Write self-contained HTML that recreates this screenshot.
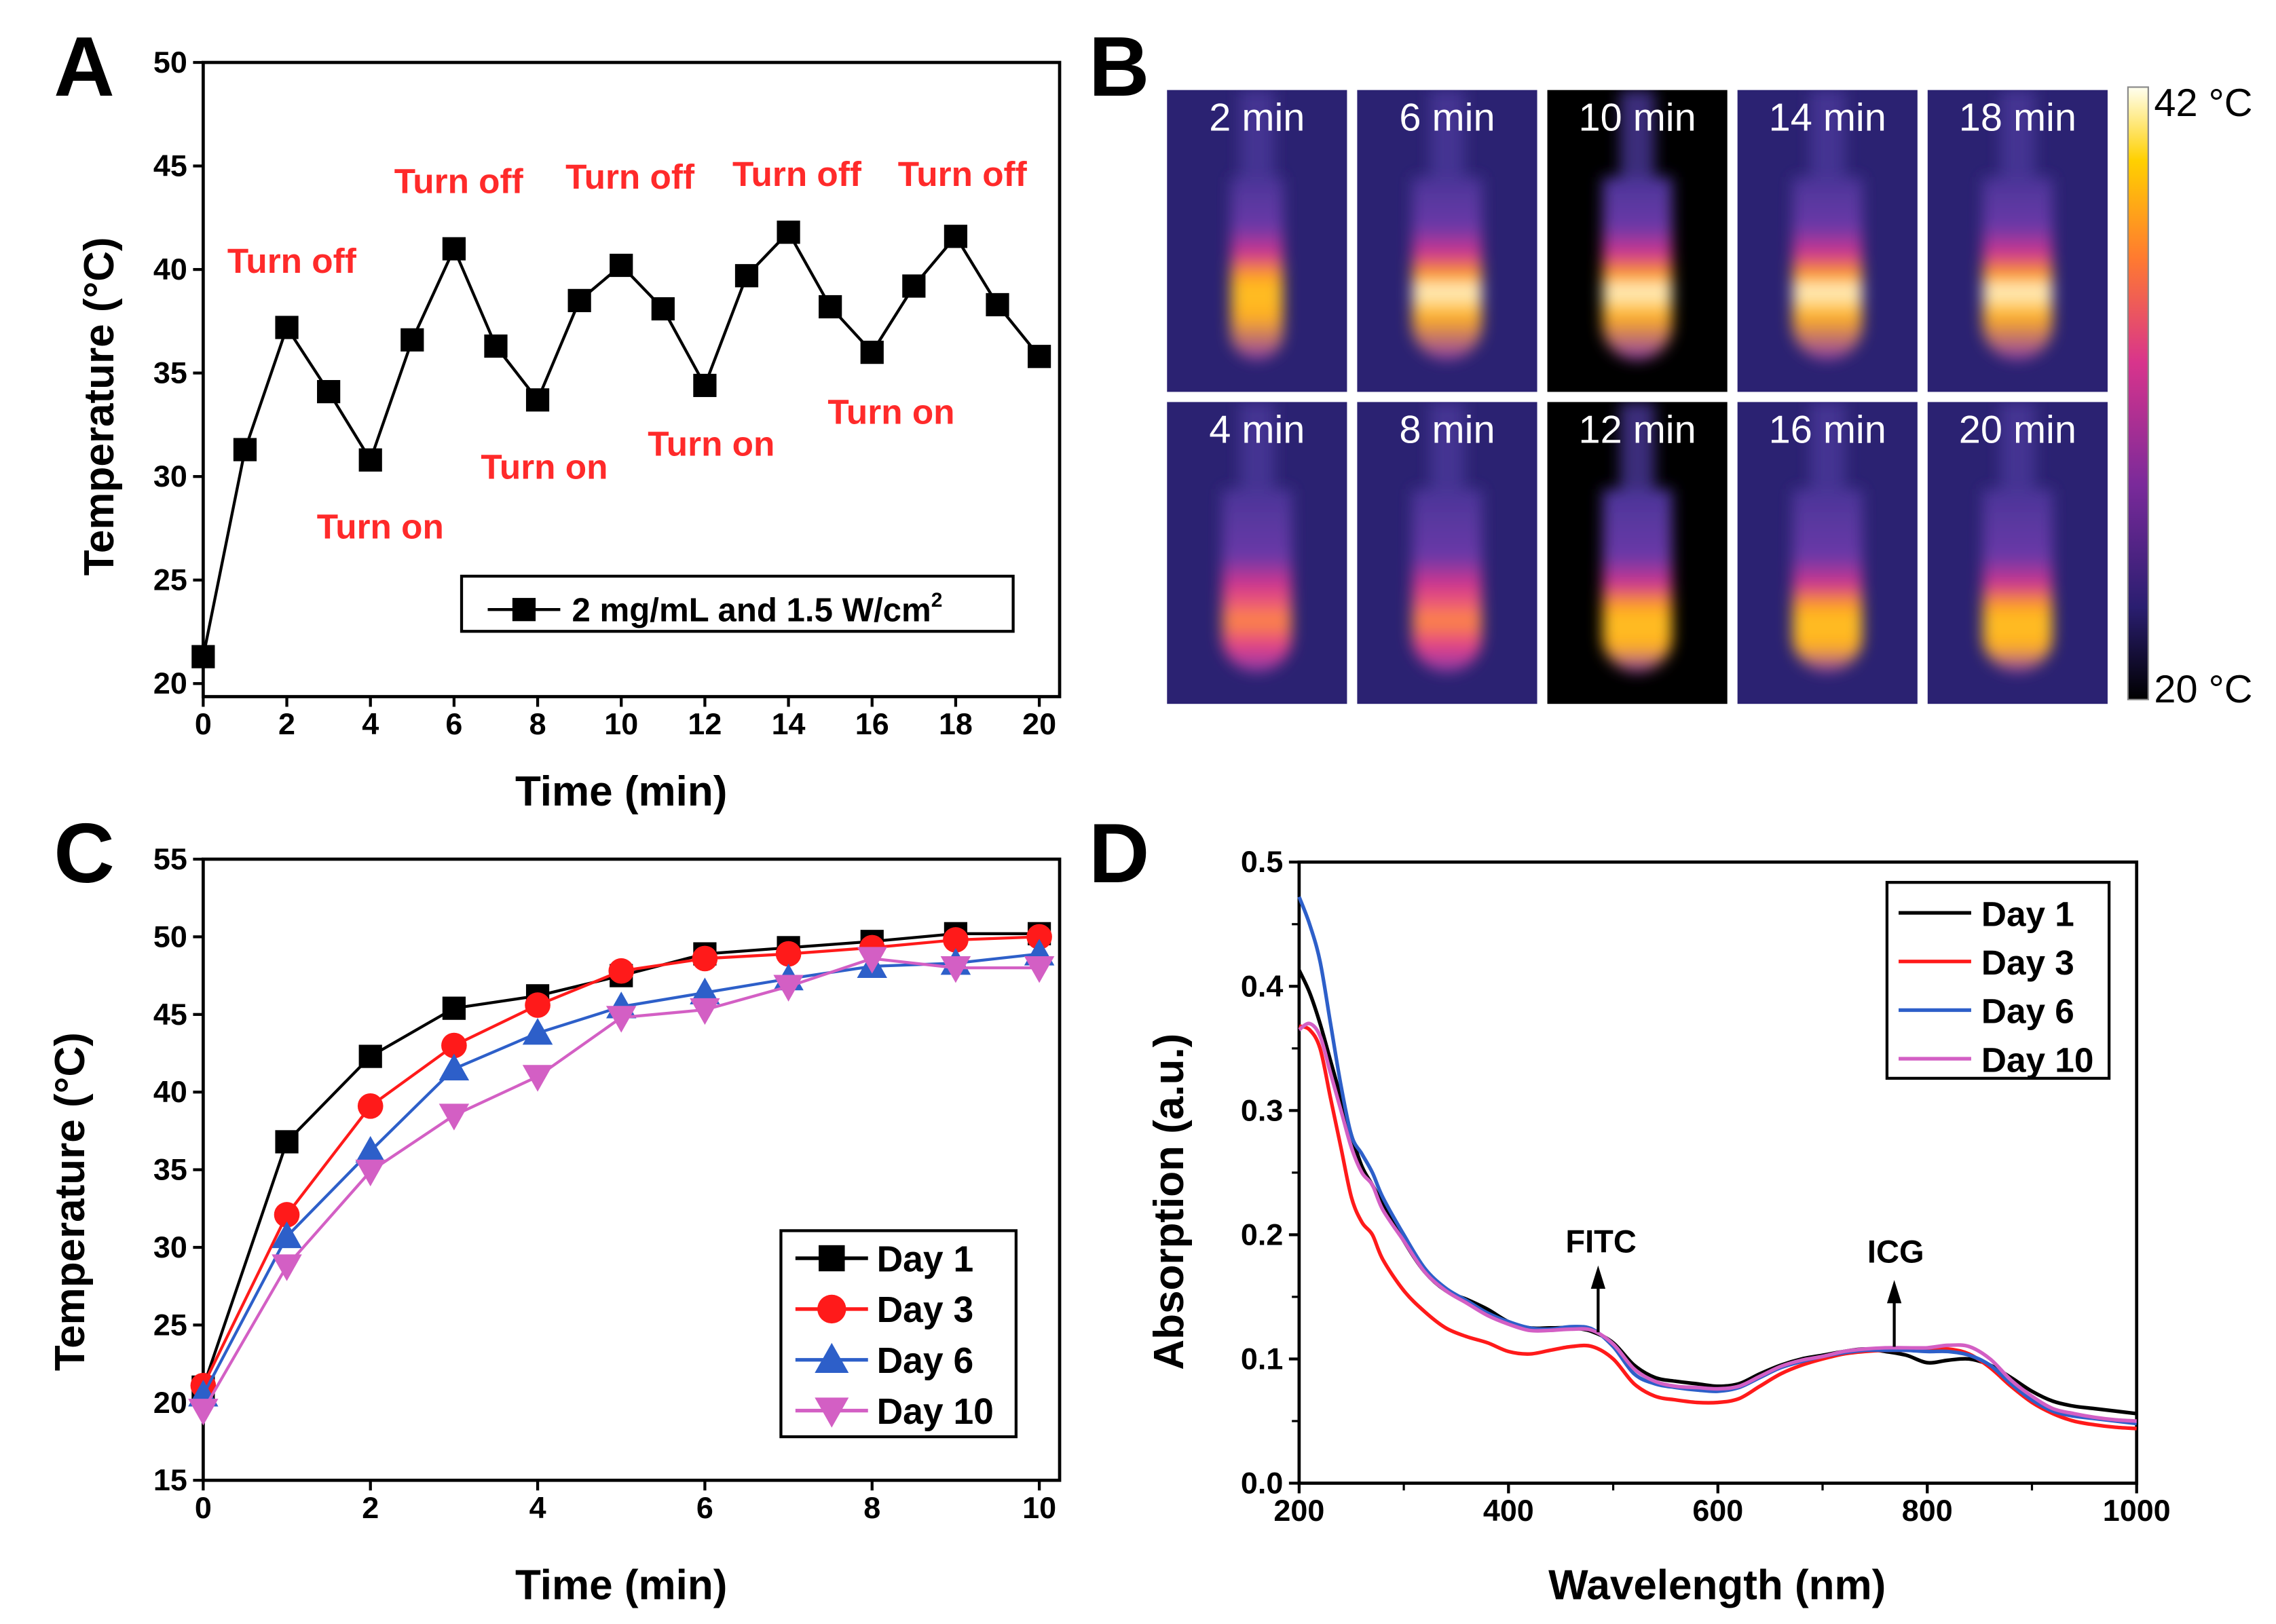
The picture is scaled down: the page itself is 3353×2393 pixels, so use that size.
<!DOCTYPE html>
<html><head><meta charset="utf-8"><style>
html,body{margin:0;padding:0;background:#fff}
svg{display:block}
text{font-family:"Liberation Sans",Arial,sans-serif}
</style></head><body>
<svg id="fig" width="3353" height="2393" viewBox="0 0 1568 1119" xmlns="http://www.w3.org/2000/svg">
<defs>
<linearGradient id="cbar" x1="0" y1="1" x2="0" y2="0">
<stop offset="0" stop-color="#000"/><stop offset="0.15" stop-color="#2a1e70"/><stop offset="0.35" stop-color="#7a2a9a"/><stop offset="0.55" stop-color="#d8348c"/><stop offset="0.72" stop-color="#ff7a30"/><stop offset="0.88" stop-color="#ffd000"/><stop offset="1" stop-color="#fffff0"/>
</linearGradient>
<filter id="blur" x="-50%" y="-30%" width="200%" height="160%"><feGaussianBlur stdDeviation="5"/></filter>
</defs>
</svg>
<script>
// ---------- DATA ----------
const timeA = [0,1,2,3,4,5,6,7,8,9,10,11,12,13,14,15,16,17,18,19,20];
const tempA = [21.3,31.3,37.2,34.1,30.8,36.6,41.0,36.3,33.7,38.5,40.2,38.1,34.4,39.7,41.8,38.2,36.0,39.2,41.6,38.3,35.8];
const ticksAx = [0,2,4,6,8,10,12,14,16,18,20];
const ticksAy = [20,25,30,35,40,45,50];

const timeC = [0,1,2,3,4,5,6,7,8,9,10];
const day1C = [21.0,36.8,42.3,45.4,46.2,47.5,48.9,49.3,49.7,50.2,50.2];
const day3C = [21.1,32.1,39.1,43.0,45.6,47.8,48.6,48.9,49.3,49.8,50.0];
const day6C = [20.5,30.7,36.2,41.5,43.8,45.5,46.4,47.3,48.1,48.3,48.9];
const day10C = [19.5,28.8,34.9,38.5,41.0,44.8,45.3,46.8,48.6,48.0,48.0];
const ticksCx = [0,2,4,6,8,10];
const ticksCy = [15,20,25,30,35,40,45,50,55];

const wl = [200,210,220,230,240,250,260,270,280,300,320,340,360,380,400,420,440,460,480,500,520,540,560,580,600,620,640,660,680,700,720,740,760,780,800,820,840,860,880,900,920,940,960,980,1000];
const absDay1 = [0.413,0.395,0.37,0.34,0.31,0.28,0.255,0.24,0.225,0.195,0.17,0.155,0.148,0.14,0.13,0.125,0.125,0.125,0.122,0.113,0.095,0.085,0.082,0.08,0.078,0.08,0.088,0.095,0.1,0.103,0.106,0.108,0.106,0.103,0.097,0.099,0.1,0.095,0.085,0.074,0.066,0.062,0.06,0.058,0.056];
const absDay3 = [0.368,0.365,0.35,0.31,0.27,0.23,0.21,0.2,0.18,0.155,0.138,0.125,0.118,0.113,0.106,0.104,0.107,0.11,0.11,0.1,0.08,0.07,0.067,0.065,0.065,0.068,0.078,0.088,0.095,0.1,0.104,0.106,0.107,0.107,0.107,0.108,0.104,0.093,0.078,0.065,0.056,0.05,0.047,0.045,0.044];
const absDay6 = [0.472,0.45,0.42,0.37,0.32,0.28,0.265,0.25,0.23,0.2,0.173,0.157,0.147,0.137,0.13,0.125,0.124,0.126,0.124,0.11,0.088,0.08,0.077,0.075,0.074,0.077,0.085,0.093,0.098,0.102,0.105,0.107,0.107,0.107,0.106,0.106,0.103,0.095,0.08,0.067,0.058,0.054,0.052,0.05,0.048];
const absDay10 = [0.365,0.37,0.36,0.33,0.3,0.27,0.25,0.24,0.22,0.195,0.17,0.155,0.145,0.135,0.128,0.123,0.123,0.124,0.123,0.112,0.092,0.082,0.078,0.077,0.076,0.078,0.086,0.094,0.099,0.102,0.106,0.108,0.109,0.109,0.109,0.111,0.11,0.1,0.083,0.07,0.06,0.056,0.053,0.051,0.05];
const ticksDx = [200,400,600,800,1000];
const ticksDy = [0.0,0.1,0.2,0.3,0.4,0.5];

const thermLabels = ["2 min","6 min","10 min","14 min","18 min","4 min","8 min","12 min","16 min","20 min"];
const thermHeat = [0.75,0.95,0.95,1.0,0.98,0.55,0.7,0.72,0.8,0.78];

// ---------- HELPERS ----------
const svg = document.getElementById('fig');
const NS = 'http://www.w3.org/2000/svg';
function mk(tag, attrs, parent){const e=document.createElementNS(NS,tag);for(const k in attrs)e.setAttribute(k,attrs[k]);(parent||svg).appendChild(e);return e;}
function txt(s,x,y,attrs,parent){const t=mk('text',Object.assign({x:x,y:y},attrs),parent);t.textContent=s;return t;}
function lin(d0,d1,r0,r1){return v=>r0+(v-d0)/(d1-d0)*(r1-r0);}
function marker(g,type,x,y,color,s){
  let e;
  if(type==='sq') e=mk('rect',{x:x-s,y:y-s,width:2*s,height:2*s,fill:color},g);
  else if(type==='ci') e=mk('circle',{cx:x,cy:y,r:s*1.1,fill:color},g);
  else if(type==='tu') e=mk('polygon',{points:`${x},${y-s*1.3} ${x-s*1.3},${y+s} ${x+s*1.3},${y+s}`,fill:color},g);
  else e=mk('polygon',{points:`${x},${y+s*1.3} ${x-s*1.3},${y-s} ${x+s*1.3},${y-s}`,fill:color},g);
  return e;
}
function smooth(pts){
  let d=`M${pts[0][0]},${pts[0][1]}`;
  for(let i=0;i<pts.length-1;i++){
    const p0=pts[Math.max(0,i-1)],p1=pts[i],p2=pts[i+1],p3=pts[Math.min(pts.length-1,i+2)];
    const c1x=p1[0]+(p2[0]-p0[0])/6,c1y=p1[1]+(p2[1]-p0[1])/6;
    const c2x=p2[0]-(p3[0]-p1[0])/6,c2y=p2[1]-(p3[1]-p1[1])/6;
    d+=` C${c1x},${c1y} ${c2x},${c2y} ${p2[0]},${p2[1]}`;
  }
  return d;
}
function axes(g,box,xs,ys,xt,yt,fmtY,name){
  const frame=mk('rect',{x:box.l,y:box.t,width:box.r-box.l,height:box.b-box.t,fill:'none',stroke:'#000','stroke-width':2.2},g);
  
  
  xt.forEach(v=>{const x=xs(v);mk('line',{x1:x,y1:box.b,x2:x,y2:box.b+7,stroke:'#000','stroke-width':2},g);
    const t=txt(String(v),x,box.b+26,{'font-size':21,'font-weight':'bold','text-anchor':'middle'},g);
    });
  yt.forEach(v=>{const y=ys(v);mk('line',{x1:box.l-7,y1:y,x2:box.l,y2:y,stroke:'#000','stroke-width':2},g);
    const t=txt(fmtY(v),box.l-11,y+7,{'font-size':21,'font-weight':'bold','text-anchor':'end'},g);
    });
}

// ---------- PANEL A ----------
const gA=mk('g',{});

const boxA={l:140,r:730,t:43,b:480};
const xA=lin(0,20,140,716), yA=lin(20,50,471,43);
axes(gA,boxA,xA,yA,ticksAx,ticksAy,v=>String(v),'panel-a');
let ptsA=timeA.map((t,i)=>xA(t)+','+yA(tempA[i])).join(' ');
const plA=mk('polyline',{points:ptsA,fill:'none',stroke:'#000','stroke-width':2},gA);

timeA.forEach((t,i)=>{const m=marker(gA,'sq',xA(t),yA(tempA[i]),'#000',8);
  });
[["Turn off",201,188],["Turn off",316,133],["Turn off",434,130],["Turn off",549,128],["Turn off",663,128],
 ["Turn on",262,371],["Turn on",375,330],["Turn on",490,314],["Turn on",614,292]].forEach(a=>{
  const t=txt(a[0],a[1],a[2],{'font-size':24,fill:'#ff2a2a','text-anchor':'middle','font-weight':'bold'},gA);
  });
const lgA=mk('rect',{x:318,y:397,width:380,height:38,fill:'#fff',stroke:'#000','stroke-width':2},gA);

mk('line',{x1:336,y1:420,x2:386,y2:420,stroke:'#000','stroke-width':2},gA);
marker(gA,'sq',361,420,'#000',8);
const la=txt('2 mg/mL and 1.5 W/cm',394,428,{'font-size':23,'font-weight':'bold'},gA);

const sup=mk('tspan',{dy:-10,'font-size':14},la);sup.textContent='2';
const yta=txt('Temperature (°C)',0,0,{'font-size':29,'font-weight':'bold','text-anchor':'middle',transform:'translate(78,280) rotate(-90)'},gA);

const xta=txt('Time (min)',428,555,{'font-size':29,'font-weight':'bold','text-anchor':'middle'},gA);

const lA=txt('A',58,66,{'font-size':58,'font-weight':'bold','text-anchor':'middle'},gA);


// ---------- PANEL B ----------
const gB=mk('g',{});

const defs=svg.querySelector('defs');
const colX=[804,935,1066,1197,1328], rowY=[62,277], cw=124, ch=208;
thermLabels.forEach((lab,i)=>{
  const c=i%5, r=Math.floor(i/5), x=colX[c], y=rowY[r], h=thermHeat[i];
  const dark=(c===2);
  const bg=mk('rect',{x:x,y:y,width:cw,height:ch,fill:dark?'#000':'#2b2272'},gB);
  
  const cp=mk('clipPath',{id:'cp'+i},defs);
  mk('rect',{x:x,y:y,width:cw,height:ch},cp);
  const gid='tg'+i;
  const lg=mk('linearGradient',{id:gid,x1:0,y1:0,x2:0,y2:1},defs);
  const hotY=r===0?0.62:0.72;
  const stops=[[0,'#4a3598'],[hotY-0.35,'#6a3aa8'],[hotY-0.2,'#d0358f'],[hotY-0.08,h>0.7?'#ffa020':'#f06070'],[hotY,h>0.9?'#fff6d0':(h>0.7?'#ffc020':'#ff8a40')],[hotY+0.14,h>0.7?'#ffb020':'#e0408a'],[1,'#8a3aa8']];
  stops.forEach(s=>mk('stop',{offset:s[0],'stop-color':s[1]},lg));
  const cx=x+cw/2, top=y+20, bot=y+ch-22, w=r===0?(h>0.9?24:18):24;
  const tg=mk('g',{'clip-path':`url(#cp${i})`,filter:'url(#blur)'},gB);
  mk('rect',{x:cx-12,y:y,width:24,height:70,fill:'#4a3a9a',opacity:0.8},tg);
  const tube=mk('path',{d:`M${cx-w},${top+40} L${cx+w},${top+40} L${cx+w},${bot-w} A${w},${w} 0 0 1 ${cx-w},${bot-w} Z`,fill:`url(#${gid})`},tg);
  
  const t=txt(lab,x+cw/2,y+28,{'font-size':27,fill:'#fff','text-anchor':'middle'},gB);
  
});
const cb=mk('rect',{x:1466,y:60,width:14,height:422,fill:'url(#cbar)',stroke:'#888','stroke-width':1},gB);

const c42=txt('42 °C',1484,80,{'font-size':27},gB);
const c20=txt('20 °C',1484,484,{'font-size':27},gB);
const lB=txt('B',771,66,{'font-size':58,'font-weight':'bold','text-anchor':'middle'},gB);


// ---------- PANEL C ----------
const gC=mk('g',{});

const boxC={l:140,r:730,t:592,b:1020};
const xC=lin(0,10,140,716), yC=lin(15,55,1020,592);
axes(gC,boxC,xC,yC,ticksCx,ticksCy,v=>String(v),'panel-c');
const seriesC=[[day1C,'#000','sq','Day 1'],[day3C,'#ff1a1a','ci','Day 3'],[day6C,'#2d5fc9','tu','Day 6'],[day10C,'#d35fc4','td','Day 10']];
seriesC.forEach(s=>{
  const pl=mk('polyline',{points:timeC.map((t,i)=>xC(t)+','+yC(s[0][i])).join(' '),fill:'none',stroke:s[1],'stroke-width':2},gC);
  
  timeC.forEach((t,i)=>{const m=marker(gC,s[2],xC(t),yC(s[0][i]),s[1],8);
    });
});
const lgC=mk('rect',{x:538,y:848,width:162,height:142,fill:'#fff',stroke:'#000','stroke-width':2},gC);

seriesC.forEach((s,i)=>{const y=867+i*35;
  mk('line',{x1:548,y1:y,x2:598,y2:y,stroke:s[1],'stroke-width':2.5},gC);
  marker(gC,s[2],573,y,s[1],9);
  const t=txt(s[3],604,y+9,{'font-size':25,'font-weight':'bold'},gC);
  });
const ytc=txt('Temperature (°C)',0,0,{'font-size':29,'font-weight':'bold','text-anchor':'middle',transform:'translate(58,828) rotate(-90)'},gC);

const xtc=txt('Time (min)',428,1102,{'font-size':29,'font-weight':'bold','text-anchor':'middle'},gC);

const lC=txt('C',58,608,{'font-size':58,'font-weight':'bold','text-anchor':'middle'},gC);


// ---------- PANEL D ----------
const gD=mk('g',{});

const boxD={l:895,r:1472,t:594,b:1022};
const xD=lin(200,1000,895,1472), yD=lin(0,0.5,1022,594);
axes(gD,boxD,xD,yD,ticksDx,ticksDy,v=>v.toFixed(1),'panel-d');
[300,500,700,900].forEach(v=>mk('line',{x1:xD(v),y1:boxD.b,x2:xD(v),y2:boxD.b+5,stroke:'#000','stroke-width':1.5},gD));
[0.05,0.15,0.25,0.35,0.45].forEach(v=>mk('line',{x1:boxD.l-5,y1:yD(v),x2:boxD.l,y2:yD(v),stroke:'#000','stroke-width':1.5},gD));
const seriesD=[[absDay1,'#000','Day 1'],[absDay3,'#ff1a1a','Day 3'],[absDay6,'#2d5fc9','Day 6'],[absDay10,'#d35fc4','Day 10']];
seriesD.forEach(s=>{
  const p=mk('path',{d:smooth(wl.map((w,i)=>[xD(w),yD(s[0][i])])),fill:'none',stroke:s[1],'stroke-width':2.5},gD);
  });
const lgD=mk('rect',{x:1300,y:608,width:153,height:135,fill:'#fff',stroke:'#000','stroke-width':2},gD);

seriesD.forEach((s,i)=>{const y=629+i*33.5;
  mk('line',{x1:1308,y1:y,x2:1358,y2:y,stroke:s[1],'stroke-width':2.5},gD);
  const t=txt(s[2],1365,y+9,{'font-size':24,'font-weight':'bold'},gD);
  });
[['FITC',1101,918,872,1103,863],['ICG',1305,928,882,1306,870]].forEach(a=>{
  mk('line',{x1:a[1],y1:a[2],x2:a[1],y2:a[3]+10,stroke:'#000','stroke-width':2},gD);
  const ar=mk('polygon',{points:`${a[1]},${a[3]} ${a[1]-5},${a[3]+16} ${a[1]+5},${a[3]+16}`,fill:'#000'},gD);
  
  const t=txt(a[0],a[4],a[5],{'font-size':22,'font-weight':'bold','text-anchor':'middle'},gD);
  });
const ytd=txt('Absorption (a.u.)',0,0,{'font-size':29,'font-weight':'bold','text-anchor':'middle',transform:'translate(815,828) rotate(-90)'},gD);

const xtd=txt('Wavelength (nm)',1183,1102,{'font-size':29,'font-weight':'bold','text-anchor':'middle'},gD);

const lD=txt('D',771,608,{'font-size':58,'font-weight':'bold','text-anchor':'middle'},gD);

</script>
</body></html>
